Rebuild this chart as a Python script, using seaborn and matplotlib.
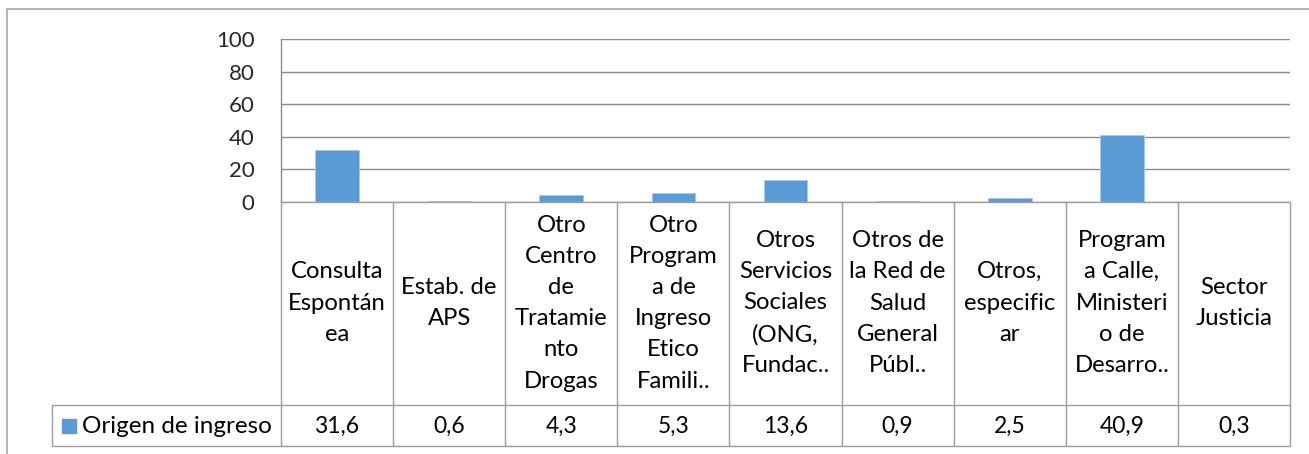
import matplotlib
matplotlib.use("Agg")
import matplotlib.pyplot as plt
import seaborn as sns
import pandas as pd
from matplotlib.lines import Line2D
from matplotlib.patches import Rectangle

categories = [
    "Consulta\nEspontán\nea",
    "Estab. de\nAPS",
    "Otro\nCentro\nde\nTratamie\nnto\nDrogas",
    "Otro\nProgram\na de\nIngreso\nEtico\nFamili..",
    "Otros\nServicios\nSociales\n(ONG,\nFundac..",
    "Otros de\nla Red de\nSalud\nGeneral\nPúbl..",
    "Otros,\nespecific\nar",
    "Program\na Calle,\nMinisteri\no de\nDesarro..",
    "Sector\nJusticia",
]
values = [31.6, 0.6, 4.3, 5.3, 13.6, 0.9, 2.5, 40.9, 0.3]
value_labels = ["31,6", "0,6", "4,3", "5,3", "13,6", "0,9", "2,5", "40,9", "0,3"]
series_name = "Origen de ingreso"
y_ticks = [0, 20, 40, 60, 80, 100]

sns.set_theme(style="white")
plt.rcParams["font.family"] = ["Lato", "DejaVu Sans"]

W, H = 1309, 454
fig = plt.figure(figsize=(W / 100, H / 100), dpi=100)

def fx(px):
    return px / W

def fy(py):
    return 1 - py / H

left, right, top, zero = 281, 1290, 39, 202
ax = fig.add_axes([fx(left), fy(zero), fx(right - left), (zero - top) / H])

bar_color = "#5B9BD5"
grid_color = "#8C8C8C"
line_color = "#9E9E9E"

df = pd.DataFrame({"cat": categories, "val": values})
sns.barplot(data=df, x="cat", y="val", color=bar_color, saturation=1,
            width=0.39, ax=ax, edgecolor="#A9C8EA", linewidth=0.6)

ax.set_xlim(-0.5, len(categories) - 0.5)
ax.set_ylim(0, 100)
ax.set_yticks(y_ticks)
ax.set_yticklabels([str(t) for t in y_ticks], fontsize=16)
ax.tick_params(axis="y", length=0, pad=19)
ax.set_xticks([])
ax.set_xlabel("")
ax.set_ylabel("")
ax.grid(axis="y", color=grid_color, linewidth=1)
ax.set_axisbelow(True)
for s in ["top", "right", "bottom"]:
    ax.spines[s].set_visible(False)
ax.spines["left"].set_color(grid_color)
ax.spines["left"].set_linewidth(1)

# outer chart border
fig.add_artist(Line2D([fx(7), fx(7), fx(1309)], [fy(454), fy(9), fy(9)],
                      color="#A6A6A6", linewidth=1.2))

# data table
n = len(categories)
colw = (right - left) / n
row_mid, row_bot = 405, 446
for i in range(n + 1):
    x = left + i * colw
    fig.add_artist(Line2D([fx(x), fx(x)], [fy(zero), fy(row_bot)], color=line_color, linewidth=1))
fig.add_artist(Line2D([fx(left), fx(right)], [fy(zero), fy(zero)], color=line_color, linewidth=1))
fig.add_artist(Line2D([fx(52), fx(right)], [fy(row_mid), fy(row_mid)], color=line_color, linewidth=1))
fig.add_artist(Line2D([fx(52), fx(right)], [fy(row_bot), fy(row_bot)], color=line_color, linewidth=1))
fig.add_artist(Line2D([fx(52), fx(52)], [fy(row_mid), fy(row_bot)], color=line_color, linewidth=1))

for i, (c, v) in enumerate(zip(categories, value_labels)):
    cx = left + (i + 0.5) * colw
    fig.text(fx(cx), fy(303), c, ha="center", va="center",
             fontsize=17.2, linespacing=1.6, color="black")
    fig.text(fx(cx), fy((row_mid + row_bot) / 2 + 1), v, ha="center", va="center",
             fontsize=16.5, color="black")

fig.add_artist(Rectangle((fx(62), fy(433)), fx(14), 14 / H, color=bar_color,
                         transform=fig.transFigure))
fig.text(fx(82), fy((row_mid + row_bot) / 2 + 1), series_name, ha="left", va="center",
         fontsize=17.5, color="black")

fig.savefig("out.png", dpi=100)
